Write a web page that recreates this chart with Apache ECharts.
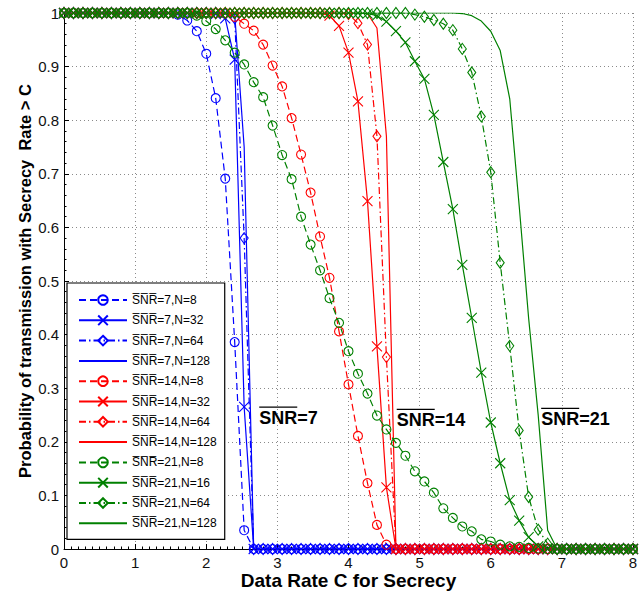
<!DOCTYPE html>
<html>
<head>
<meta charset="utf-8">
<script src="https://cdn.jsdelivr.net/npm/echarts@6/dist/echarts.min.js"></script>
<style>
  html, body { margin: 0; padding: 0; background: #fff; }
  #chart { width: 641px; height: 593px; }
</style>
</head>
<body>
<div id="chart"></div>
<script>
// data rate C (x axis), 61 samples between 0 and 8
const rates = [
  0, 0.133, 0.267, 0.4, 0.533, 0.667, 0.8, 0.933, 1.067, 1.2,
  1.333, 1.467, 1.6, 1.733, 1.867, 2.0, 2.133, 2.267, 2.4, 2.533,
  2.667, 2.8, 2.933, 3.067, 3.2, 3.333, 3.467, 3.6, 3.733, 3.867,
  4.0, 4.133, 4.267, 4.4, 4.533, 4.667, 4.8, 4.933, 5.067, 5.2,
  5.333, 5.467, 5.6, 5.733, 5.867, 6.0, 6.133, 6.267, 6.4, 6.533,
  6.667, 6.8, 6.933, 7.067, 7.2, 7.333, 7.467, 7.6, 7.733, 7.867,
  8
];

// SNR = 7
const snr7N8 = [
  1, 1, 1, 1, 1, 1, 1, 1, 1, 1,
  1, 1, 0.997, 0.986, 0.966, 0.924, 0.841, 0.691, 0.386, 0.035,
  0, 0, 0, 0, 0, 0, 0, 0, 0, 0,
  0, 0, 0, 0, 0, 0, 0, 0, 0, 0,
  0, 0, 0, 0, 0, 0, 0, 0, 0, 0,
  0, 0, 0, 0, 0, 0, 0, 0, 0, 0,
  0
];
const snr7N32 = [
  1, 1, 1, 1, 1, 1, 1, 1, 1, 1,
  1, 1, 1, 1, 1, 1, 0.998, 0.99, 0.913, 0.265,
  0, 0, 0, 0, 0, 0, 0, 0, 0, 0,
  0, 0, 0, 0, 0, 0, 0, 0, 0, 0,
  0, 0, 0, 0, 0, 0, 0, 0, 0, 0,
  0, 0, 0, 0, 0, 0, 0, 0, 0, 0,
  0
];
const snr7N64 = [
  1, 1, 1, 1, 1, 1, 1, 1, 1, 1,
  1, 1, 1, 1, 1, 1, 1, 0.998, 0.99, 0.58,
  0, 0, 0, 0, 0, 0, 0, 0, 0, 0,
  0, 0, 0, 0, 0, 0, 0, 0, 0, 0,
  0, 0, 0, 0, 0, 0, 0, 0, 0, 0,
  0, 0, 0, 0, 0, 0, 0, 0, 0, 0,
  0
];
const snr7N128 = [
  1, 1, 1, 1, 1, 1, 1, 1, 1, 1,
  1, 1, 1, 1, 1, 1, 1, 1, 0.998, 0.75,
  0, 0, 0, 0, 0, 0, 0, 0, 0, 0,
  0, 0, 0, 0, 0, 0, 0, 0, 0, 0,
  0, 0, 0, 0, 0, 0, 0, 0, 0, 0,
  0, 0, 0, 0, 0, 0, 0, 0, 0, 0,
  0
];

// SNR = 14
const snr14N8 = [
  1, 1, 1, 1, 1, 1, 1, 1, 1, 1,
  1, 1, 1, 1, 1, 1, 1, 1, 0.993, 0.98,
  0.967, 0.941, 0.902, 0.863, 0.804, 0.736, 0.665, 0.583, 0.506, 0.406,
  0.307, 0.211, 0.123, 0.045, 0.008, 0, 0, 0, 0, 0,
  0, 0, 0, 0, 0, 0, 0, 0, 0, 0,
  0, 0, 0, 0, 0, 0, 0, 0, 0, 0,
  0
];
const snr14N32 = [
  1, 1, 1, 1, 1, 1, 1, 1, 1, 1,
  1, 1, 1, 1, 1, 1, 1, 1, 1, 1,
  1, 1, 1, 1, 1, 1, 1, 1, 0.995, 0.976,
  0.926, 0.835, 0.649, 0.378, 0.115, 0, 0, 0, 0, 0,
  0, 0, 0, 0, 0, 0, 0, 0, 0, 0,
  0, 0, 0, 0, 0, 0, 0, 0, 0, 0,
  0
];
const snr14N64 = [
  1, 1, 1, 1, 1, 1, 1, 1, 1, 1,
  1, 1, 1, 1, 1, 1, 1, 1, 1, 1,
  1, 1, 1, 1, 1, 1, 1, 1, 1, 1,
  0.998, 0.981, 0.941, 0.77, 0.358, 0, 0, 0, 0, 0,
  0, 0, 0, 0, 0, 0, 0, 0, 0, 0,
  0, 0, 0, 0, 0, 0, 0, 0, 0, 0,
  0
];
const snr14N128 = [
  1, 1, 1, 1, 1, 1, 1, 1, 1, 1,
  1, 1, 1, 1, 1, 1, 1, 1, 1, 1,
  1, 1, 1, 1, 1, 1, 1, 1, 1, 1,
  1, 1, 0.999, 0.972, 0.77, 0, 0, 0, 0, 0,
  0, 0, 0, 0, 0, 0, 0, 0, 0, 0,
  0, 0, 0, 0, 0, 0, 0, 0, 0, 0,
  0
];

// SNR = 21
const snr21N8 = [
  1, 1, 1, 1, 1, 1, 1, 1, 1, 1,
  1, 1, 1, 1, 0.995, 0.985, 0.97, 0.949, 0.926, 0.904,
  0.871, 0.843, 0.79, 0.735, 0.69, 0.62, 0.568, 0.52, 0.468, 0.422,
  0.369, 0.327, 0.29, 0.249, 0.223, 0.198, 0.174, 0.145, 0.126, 0.105,
  0.076, 0.058, 0.042, 0.033, 0.018, 0.014, 0.008, 0.005, 0.004, 0.002,
  0.001, 0, 0, 0, 0, 0, 0, 0, 0, 0,
  0
];
const snr21N16 = [
  1, 1, 1, 1, 1, 1, 1, 1, 1, 1,
  1, 1, 1, 1, 1, 1, 1, 1, 1, 1,
  1, 1, 1, 1, 1, 1, 1, 1, 1, 1,
  1, 1, 0.999, 0.995, 0.984, 0.966, 0.945, 0.91, 0.877, 0.81,
  0.722, 0.634, 0.53, 0.431, 0.329, 0.236, 0.16, 0.091, 0.053, 0.022,
  0.005, 0, 0, 0, 0, 0, 0, 0, 0, 0,
  0
];
const snr21N64 = [
  1, 1, 1, 1, 1, 1, 1, 1, 1, 1,
  1, 1, 1, 1, 1, 1, 1, 1, 1, 1,
  1, 1, 1, 1, 1, 1, 1, 1, 1, 1,
  1, 1, 1, 1, 1, 1, 1, 0.997, 0.993, 0.987,
  0.98, 0.968, 0.933, 0.889, 0.807, 0.703, 0.534, 0.379, 0.221, 0.097,
  0.036, 0.01, 0, 0, 0, 0, 0, 0, 0, 0,
  0
];
const snr21N128 = [
  1, 1, 1, 1, 1, 1, 1, 1, 1, 1,
  1, 1, 1, 1, 1, 1, 1, 1, 1, 1,
  1, 1, 1, 1, 1, 1, 1, 1, 1, 1,
  1, 1, 1, 1, 1, 1, 1, 1, 1, 1,
  1, 1, 0.999, 0.995, 0.985, 0.966, 0.93, 0.84, 0.64, 0.43,
  0.25, 0.035, 0, 0, 0, 0, 0, 0, 0, 0,
  0
];

const xTicks = ['0', '1', '2', '3', '4', '5', '6', '7', '8'];

// in-plot labels, anchored in data coordinates
const curveLabels = [
  {snr: '7', x: 2.745, y: 0.244},
  {snr: '14', x: 4.678, y: 0.240},
  {snr: '21', x: 6.709, y: 0.242},
];

const FONT = '"Liberation Sans", Arial, Helvetica, sans-serif';
const BLUE = '#0000ff';
const RED = '#ff0000';
const GREEN = '#008000';
const OVER = '\u0305';
const SNR = 'S' + OVER + 'N' + OVER + 'R' + OVER;

const DASH = [7, 4];
const DASHDOT = [7, 3, 1.5, 3];
const X_MARK = 'path://M0,0L10,10M10,0L0,10';

const styles = {
  circle: {symbol: 'circle', symbolSize: 9, type: DASH, border: 1.1},
  cross: {symbol: X_MARK, symbolSize: 10, type: 'solid', border: 1.1},
  diamond: {symbol: 'diamond', symbolSize: [8, 11], type: DASHDOT, border: 1.1},
  // no markers: the legend still asks for a symbol, so make it invisible
  plain: {symbol: 'none', symbolSize: 0, type: 'solid', border: 0},
};

function makeSeries(name, values, color, kind) {
  const s = styles[kind];
  return {
    name: name,
    type: 'line',
    data: rates.map((r, i) => [r, values[i]]),
    symbol: s.symbol,
    symbolSize: s.symbolSize,
    showSymbol: kind !== 'plain',
    showAllSymbol: true,
    silent: true,
    lineStyle: {color: color, width: 1.2, type: s.type},
    itemStyle: {color: 'rgba(0,0,0,0)', borderColor: kind === 'plain' ? 'rgba(0,0,0,0)' : color, borderWidth: s.border},
    emphasis: {disabled: true},
  };
}

const series = [
  makeSeries(SNR + '=7,N=8', snr7N8, BLUE, 'circle'),
  makeSeries(SNR + '=7,N=32', snr7N32, BLUE, 'cross'),
  makeSeries(SNR + '=7,N=64', snr7N64, BLUE, 'diamond'),
  makeSeries(SNR + '=7,N=128', snr7N128, BLUE, 'plain'),
  makeSeries(SNR + '=14,N=8', snr14N8, RED, 'circle'),
  makeSeries(SNR + '=14,N=32', snr14N32, RED, 'cross'),
  makeSeries(SNR + '=14,N=64', snr14N64, RED, 'diamond'),
  makeSeries(SNR + '=14,N=128', snr14N128, RED, 'plain'),
  makeSeries(SNR + '=21,N=8', snr21N8, GREEN, 'circle'),
  makeSeries(SNR + '=21,N=16', snr21N16, GREEN, 'cross'),
  makeSeries(SNR + '=21,N=64', snr21N64, GREEN, 'diamond'),
  makeSeries(SNR + '=21,N=128', snr21N128, GREEN, 'plain'),
];

const gridLine = {show: true, lineStyle: {color: '#8a8a8a', width: 1, type: [1, 3]}};

const option = {
  animation: false,
  backgroundColor: '#fff',
  textStyle: {fontFamily: FONT},
  grid: {left: 64, right: 8, top: 13, bottom: 44, containLabel: false, outerBoundsMode: 'none'},
  legend: {
    orient: 'vertical',
    left: 67,
    top: 283,
    padding: [11, 8, 10, 11],
    itemWidth: 48,
    itemHeight: 12,
    itemGap: 8.3,
    selectedMode: false,
    backgroundColor: '#fff',
    borderColor: '#000',
    borderWidth: 1.2,
    textStyle: {fontFamily: FONT, fontSize: 12, color: '#000'},
    data: series.map(s => s.name),
  },
  xAxis: {
    type: 'value',
    min: 0,
    max: 8,
    interval: 1,
    name: 'Data Rate C for Secrecy',
    nameLocation: 'middle',
    nameGap: 21.5,
    nameMoveOverlap: false,
    nameTextStyle: {fontFamily: FONT, fontSize: 19, lineHeight: 19, fontWeight: 'bold', color: '#000'},
    axisLine: {onZero: false, lineStyle: {color: '#000', width: 1}},
    axisTick: {inside: true, length: 5, lineStyle: {color: '#000'}},
    minorTick: {show: true, splitNumber: 10, length: 2.5, lineStyle: {color: '#000'}},
    axisLabel: {
      fontFamily: FONT, fontSize: 15, lineHeight: 15, color: '#111', margin: 6,
      formatter: v => xTicks[Math.round(v)],
    },
    splitLine: gridLine,
  },
  yAxis: {
    type: 'value',
    min: 0,
    max: 1,
    interval: 0.1,
    name: 'Probability of transmission with Secrecy  Rate > C',
    nameLocation: 'middle',
    nameGap: 31,
    nameMoveOverlap: false,
    nameTextStyle: {fontFamily: FONT, fontSize: 16.5, fontWeight: 'bold', color: '#000'},
    axisLine: {onZero: false, lineStyle: {color: '#000', width: 1}},
    axisTick: {inside: true, length: 5, lineStyle: {color: '#000'}},
    minorTick: {show: true, splitNumber: 5, length: 2.5, lineStyle: {color: '#000'}},
    axisLabel: {fontFamily: FONT, fontSize: 15, color: '#111', margin: 5},
    splitLine: gridLine,
  },
  series: series,
};

const chart = echarts.init(document.getElementById('chart'), null, {renderer: 'svg'});
chart.setOption(option);

// curve-group labels with an overline over "SNR"
const ctx = document.createElement('canvas').getContext('2d');
ctx.font = 'bold 18px ' + FONT;
const barWidth = ctx.measureText('SNR').width;
const graphics = [];
curveLabels.forEach(lab => {
  const p = chart.convertToPixel({gridIndex: 0}, [lab.x, lab.y]);
  graphics.push({
    type: 'text',
    x: p[0],
    y: p[1],
    silent: true,
    style: {
      text: 'SNR=' + lab.snr,
      font: 'bold 18px ' + FONT,
      fill: '#000',
      verticalAlign: 'middle',
      align: 'left',
    },
  });
  graphics.push({
    type: 'line',
    silent: true,
    shape: {x1: p[0], y1: p[1] - 11, x2: p[0] + barWidth, y2: p[1] - 11},
    style: {stroke: '#000', lineWidth: 1.2},
  });
});
chart.setOption({graphic: graphics});
</script>
</body>
</html>
